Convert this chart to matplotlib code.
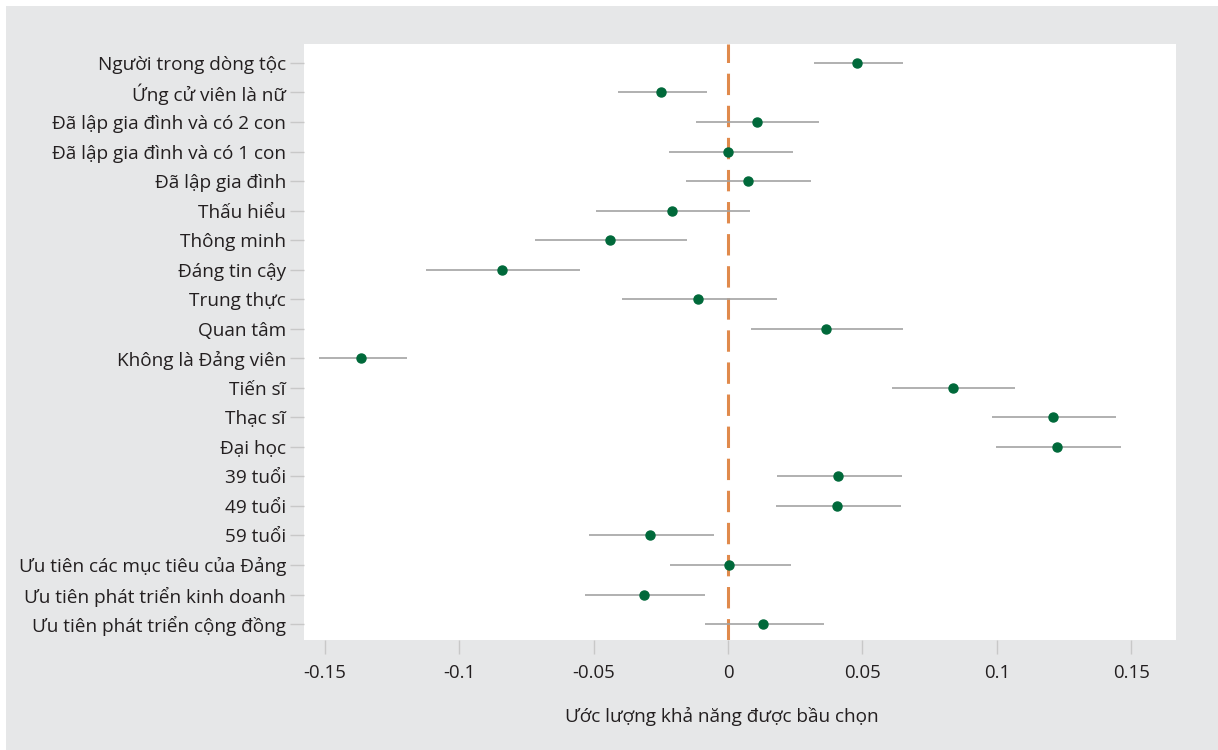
import numpy as np
import matplotlib.pyplot as plt
from matplotlib.patches import Rectangle

plt.rcParams['font.family'] = ['Open Sans', 'DejaVu Sans']

# data
labels = ["Người trong dòng tộc", "Ứng cử viên là nữ", "Đã lập gia đình và có 2 con",
          "Đã lập gia đình và có 1 con", "Đã lập gia đình", "Thấu hiểu", "Thông minh",
          "Đáng tin cậy", "Trung thực", "Quan tâm", "Không là Đảng viên", "Tiến sĩ",
          "Thạc sĩ", "Đại học", "39 tuổi", "49 tuổi", "59 tuổi",
          "Ưu tiên các mục tiêu của Đảng", "Ưu tiên phát triển kinh doanh",
          "Ưu tiên phát triển cộng đồng"]
est = [0.048, -0.025, 0.0107, 0.0, 0.0074, -0.0207, -0.044, -0.0842, -0.011, 0.0365,
       -0.1365, 0.0836, 0.1209, 0.1224, 0.041, 0.0405, -0.0289, 0.0005, -0.0314, 0.0131]
lo = [0.032, -0.041, -0.012, -0.022, -0.0157, -0.049, -0.072, -0.1124, -0.0393, 0.0086,
      -0.1524, 0.0609, 0.0983, 0.0996, 0.0181, 0.0179, -0.0516, -0.0217, -0.0532, -0.0087]
hi = [0.065, -0.008, 0.034, 0.024, 0.031, 0.008, -0.0154, -0.0551, 0.0181, 0.0652,
      -0.1195, 0.1069, 0.1442, 0.1461, 0.0646, 0.0643, -0.0052, 0.0233, -0.0087, 0.0357]
xticks = [-0.15, -0.1, -0.05, 0, 0.05, 0.1, 0.15]
xticklabels = ["-0.15", "-0.1", "-0.05", "0", "0.05", "0.1", "0.15"]

bg = "#e6e7e8"
txt = "#231f20"

fig = plt.figure(figsize=(12.18, 7.5), dpi=100, facecolor="white")
fig.patches.append(Rectangle((6/1218, 0), 1, 1 - 6/750, transform=fig.transFigure,
                             facecolor=bg, edgecolor="none", zorder=-10))
ax = fig.add_axes([304/1218, 1 - 640/750, 872/1218, 596/750])
ax.set_facecolor("white")

y = np.arange(len(labels))
ax.hlines(y, lo, hi, color="#a3a3a3", linewidth=1.2, zorder=2)
ax.axvline(0, color="#e08a4c", linewidth=2.2, dashes=(7, 3.5), zorder=1)
ax.plot(est, y, "o", color="#00693a", markersize=6.5, zorder=3)

ax.set_xlim(-0.1578, 0.1667)
ax.set_ylim(len(labels) - 1 + 0.54, -0.64)
ax.set_yticks(y)
ax.set_yticklabels(labels)
ax.set_xticks(xticks)
ax.set_xticklabels(xticklabels)
for s in ax.spines.values():
    s.set_visible(False)
ax.tick_params(axis="both", colors="#c8c8c8", labelcolor=txt, length=10, width=1)
ax.tick_params(axis="x", pad=7, labelsize=13.4)
ax.tick_params(axis="y", pad=3, labelsize=13.7)
ax.set_xlabel("Ước lượng khả năng được bầu chọn", fontsize=13.7, color=txt)
ax.xaxis.set_label_coords(0.479, -0.113)

fig.savefig("out.png", dpi=100, facecolor="white")
